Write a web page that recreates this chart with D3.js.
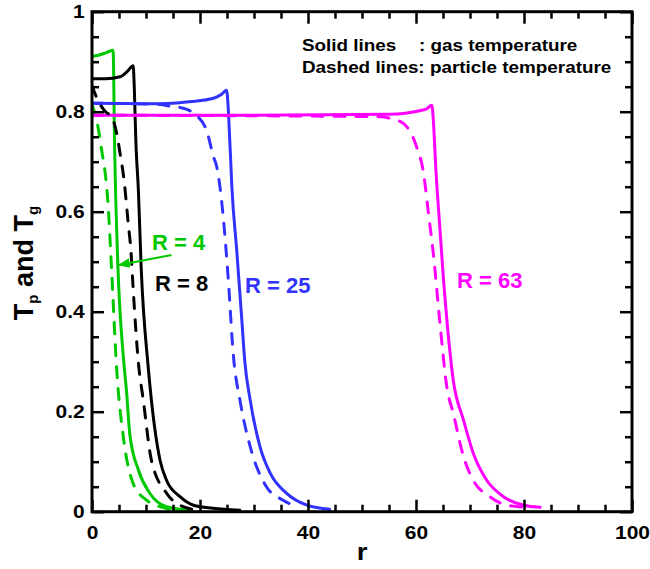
<!DOCTYPE html>
<html>
<head>
<meta charset="utf-8">
<script src="https://cdn.jsdelivr.net/npm/d3@7"></script>
<style>
  html, body { margin: 0; padding: 0; background: #fff; }
  svg { display: block; font-family: "Liberation Sans", Arial, sans-serif; font-weight: bold; }
</style>
</head>
<body>
<svg id="chart" width="650" height="569"></svg>
<script>
// Radial temperature profiles: gas (solid) and particle (dashed) for four R values
const xTicks = [0, 20, 40, 60, 80, 100];
const yTicks = [0, 0.2, 0.4, 0.6, 0.8, 1];

// [r, T] pairs
const gasR4 = [[0,0.911],[1.2,0.913],[2.4,0.917],[3.9,0.923],[4.2,0.72],[4.8,0.49],[5.8,0.31],[6.4,0.24],[7.0,0.155],[8.6,0.083],[10.7,0.037],[13.8,0.01],[18,0.003]];
const partR4 = [[0,0.815],[1.1,0.77],[1.7,0.73],[3.0,0.61],[3.6,0.49],[4.6,0.28],[5.8,0.15],[7.6,0.057],[10.1,0.023],[12.6,0.01],[14.8,0.004]];
const gasR8 = [[0,0.866],[2.5,0.866],[5.2,0.87],[6.5,0.88],[7.6,0.892],[8.2,0.72],[8.6,0.64],[9.1,0.49],[10.4,0.29],[11.0,0.223],[12.6,0.103],[13.8,0.063],[16.3,0.03],[18.8,0.013],[22.4,0.007],[27.4,0.003]];
const partR8 = [[0,0.852],[1,0.825],[2.5,0.80],[3.6,0.79],[4.6,0.755],[5.1,0.723],[6.0,0.657],[6.7,0.577],[7.2,0.523],[7.6,0.45],[8.6,0.297],[9.5,0.223],[11,0.103],[13.8,0.037],[16.3,0.013],[19.8,0.003]];
const gasR25 = [[0,0.817],[10,0.816],[15,0.817],[18.1,0.82],[22.5,0.827],[24,0.835],[24.9,0.843],[25.6,0.723],[25.9,0.65],[26.8,0.523],[27.7,0.39],[28.3,0.3],[29.3,0.223],[31.1,0.13],[33,0.077],[36,0.037],[39.8,0.013],[44,0.005]];
const partR25 = [[0,0.817],[12,0.815],[14.4,0.811],[16.5,0.808],[18.8,0.797],[21.2,0.763],[22.5,0.71],[23.1,0.69],[24.3,0.59],[25.2,0.47],[26.2,0.31],[27.4,0.223],[29.3,0.13],[32.3,0.05],[35.4,0.023],[37.9,0.01]];
const gasR63 = [[0,0.793],[30,0.793],[55.2,0.795],[58,0.797],[60.7,0.802],[62,0.806],[62.9,0.813],[63.8,0.663],[65.1,0.463],[66.9,0.263],[68.8,0.183],[70.6,0.117],[73.1,0.063],[76.2,0.03],[79.9,0.013],[83,0.009]];
const partR63 = [[0,0.793],[53.3,0.79],[55.5,0.786],[57.6,0.777],[60.1,0.73],[61.4,0.677],[62.3,0.597],[63.2,0.517],[64.5,0.37],[65.7,0.25],[66.9,0.197],[68.8,0.11],[70.6,0.063],[73.7,0.03],[76.8,0.013],[80.5,0.009]];

const seriesNames = ["R = 4", "R = 8", "R = 25", "R = 63"];
const seriesColors = ["#00c800", "#000000", "#3232ff", "#ff00ff"];
const gasSeries = [gasR4, gasR8, gasR25, gasR63];
const partSeries = [partR4, partR8, partR25, partR63];

const svg = d3.select("#chart");
const plotLeft = 92, plotRight = 632, plotTop = 11.7, plotBottom = 511.7;
const wide = 1.2;        // horizontal stretch of the tick-label font
const legendWide = 1.18; // horizontal stretch of the legend font

const x = d3.scaleLinear().domain([0, 100]).range([plotLeft, plotRight]);
const y = d3.scaleLinear().domain([0, 1]).range([plotBottom, plotTop]);

const minorX = d3.range(0, 101, 5).filter(v => v % 20 !== 0);
const minorY = d3.range(0, 21).map(v => v * 0.05).filter((v, i) => i % 4 !== 0);

svg.append("clipPath").attr("id", "plotClip")
  .append("rect").attr("x", plotLeft).attr("y", plotTop)
  .attr("width", plotRight - plotLeft).attr("height", plotBottom - plotTop);

const line = d3.line().x(d => x(d[0])).y(d => y(d[1])).curve(d3.curveMonotoneX);

const curves = svg.append("g").attr("clip-path", "url(#plotClip)");
gasSeries.forEach((s, i) => {
  curves.append("path").datum(s).attr("d", line)
    .attr("fill", "none").attr("stroke", seriesColors[i]).attr("stroke-width", 3)
    .attr("stroke-linejoin", "round").attr("stroke-linecap", "round");
});
partSeries.forEach((s, i) => {
  curves.append("path").datum(s).attr("d", line)
    .attr("fill", "none").attr("stroke", seriesColors[i]).attr("stroke-width", 3)
    .attr("stroke-dasharray", "11,11").attr("stroke-linecap", "round");
});

// Axes with inward ticks on all four sides
function styleAxis(g) {
  g.select(".domain").remove();
  g.selectAll(".tick line").attr("stroke", "#000").attr("stroke-width", 2.5);
  g.selectAll(".tick text").attr("fill", "#000").style("font-size", "17.5px").style("font-weight", "bold")
    .style("font-family", '"Liberation Sans", Arial, sans-serif')
    .attr("transform", `scale(${wide},1)`);
}
const fmtY = d => (d === 0 || d === 1) ? String(d) : d.toFixed(1);

svg.append("g").attr("transform", `translate(0,${plotBottom})`)
  .call(d3.axisBottom(x).tickValues(minorX).tickSize(-7).tickFormat("")).call(styleAxis);
svg.append("g").attr("transform", `translate(0,${plotBottom})`)
  .call(d3.axisBottom(x).tickValues(xTicks).tickSize(-12).tickPadding(15).tickFormat(d3.format("d"))).call(styleAxis);
svg.append("g").attr("transform", `translate(0,${plotTop})`)
  .call(d3.axisTop(x).tickValues(minorX).tickSize(-7).tickFormat("")).call(styleAxis);
svg.append("g").attr("transform", `translate(0,${plotTop})`)
  .call(d3.axisTop(x).tickValues(xTicks).tickSize(-12).tickFormat("")).call(styleAxis);
svg.append("g").attr("transform", `translate(${plotLeft},0)`)
  .call(d3.axisLeft(y).tickValues(minorY).tickSize(-7).tickFormat("")).call(styleAxis);
svg.append("g").attr("transform", `translate(${plotLeft},0)`)
  .call(d3.axisLeft(y).tickValues(yTicks).tickSize(-12).tickPadding(6).tickFormat(fmtY)).call(styleAxis);
svg.append("g").attr("transform", `translate(${plotRight},0)`)
  .call(d3.axisRight(y).tickValues(minorY).tickSize(-7).tickFormat("")).call(styleAxis);
svg.append("g").attr("transform", `translate(${plotRight},0)`)
  .call(d3.axisRight(y).tickValues(yTicks).tickSize(-12).tickFormat("")).call(styleAxis);

svg.append("rect").attr("x", plotLeft).attr("y", plotTop)
  .attr("width", plotRight - plotLeft).attr("height", plotBottom - plotTop)
  .attr("fill", "none").attr("stroke", "#000").attr("stroke-width", 3);

// Axis titles
svg.append("text").attr("transform", `translate(${(plotLeft + plotRight) / 2},560) scale(${wide},1)`)
  .attr("text-anchor", "middle").style("font-size", "23px").text("r");

const yTitle = svg.append("text").attr("transform", "translate(33,263) rotate(-90)")
  .attr("text-anchor", "middle").style("font-size", "27px");
yTitle.append("tspan").text("T");
yTitle.append("tspan").attr("baseline-shift", "-35%").style("font-size", "15px").text("p");
yTitle.append("tspan").text(" and T");
yTitle.append("tspan").attr("baseline-shift", "-35%").style("font-size", "15px").text("g");

// Legend text
const legend = svg.append("g").attr("transform", `translate(302,0) scale(${legendWide},1)`).style("font-size", "16px");
legend.append("text").attr("x", 0).attr("y", 51).text("Solid lines");
legend.append("text").attr("x", (419 - 302) / legendWide).attr("y", 51).text(": gas temperature");
legend.append("text").attr("x", 0).attr("y", 73).text("Dashed lines: particle temperature");

// Series labels
const labelPos = [[152, 250], [155, 291], [245, 293], [457, 288]];
seriesNames.forEach((name, i) => {
  svg.append("text").attr("x", labelPos[i][0]).attr("y", labelPos[i][1])
    .attr("fill", seriesColors[i]).style("font-size", "22px").text(name);
});

// Leader line from the R = 4 label to its curve
svg.append("defs").append("marker").attr("id", "arrowG")
  .attr("viewBox", "0 0 10 10").attr("refX", 9).attr("refY", 5)
  .attr("markerWidth", 6).attr("markerHeight", 6).attr("orient", "auto")
  .append("path").attr("d", "M0,1 L10,5 L0,9 Z").attr("fill", seriesColors[0]);
svg.append("line").attr("x1", 171.5).attr("y1", 255).attr("x2", 119).attr("y2", 265)
  .attr("stroke", seriesColors[0]).attr("stroke-width", 2).attr("marker-end", "url(#arrowG)");
</script>
</body>
</html>
